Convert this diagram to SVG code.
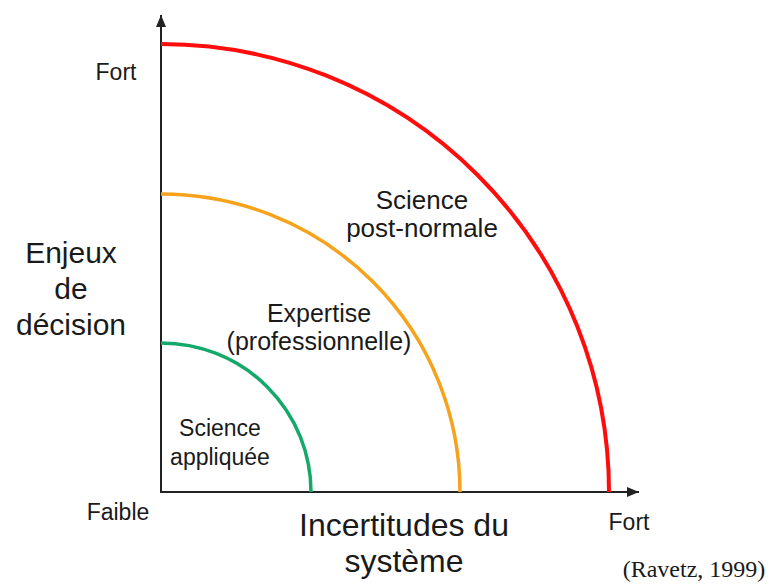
<svg xmlns="http://www.w3.org/2000/svg" width="771" height="587" viewBox="0 0 771 587">
<style>
.t{font-family:"Liberation Sans",Arial,sans-serif;fill:#1a1a1a;text-anchor:middle}
.arc{fill:none}
.ax{stroke:#222;stroke-width:2;fill:none}
</style>
<defs>
<marker id="ah" viewBox="0 0 12 10" refX="12" refY="5" markerWidth="12" markerHeight="10" markerUnits="userSpaceOnUse" orient="auto">
<path d="M0,0 L12,5 L0,10 Z" fill="#222"/>
</marker>
</defs>
<rect width="771" height="587" fill="#fff"/>
<g id="connectors">
<path class="ax" d="M161,492 V15" marker-end="url(#ah)"/>
<path class="ax" d="M160,492 H639" marker-end="url(#ah)"/>
</g>
<g id="arc-green"><path class="arc" d="M161,343 A150,149 0 0 1 311,492" stroke="#14a86a" stroke-width="3.5"/></g>
<g id="arc-orange"><path class="arc" d="M161,194 A299,298 0 0 1 460,492" stroke="#f7a21b" stroke-width="3.5"/></g>
<g id="arc-red"><path class="arc" d="M161,44 A448,448 0 0 1 609,492" stroke="#ff0d0d" stroke-width="4"/></g>
<g id="label-science-appliquee">
<text class="t" x="220" y="436" font-size="23">Science</text>
<text class="t" x="220" y="465" font-size="23">appliquée</text>
</g>
<g id="label-expertise">
<text class="t" x="319" y="322" font-size="25">Expertise</text>
<text class="t" x="319" y="350" font-size="25">(professionnelle)</text>
</g>
<g id="label-post-normale">
<text class="t" x="422" y="209" font-size="26">Science</text>
<text class="t" x="422" y="237" font-size="26">post-normale</text>
</g>
<g id="axis-y-label">
<text class="t" x="71" y="263" font-size="30">Enjeux</text>
<text class="t" x="71" y="299" font-size="30">de</text>
<text class="t" x="71" y="335" font-size="30">décision</text>
</g>
<g id="axis-x-label">
<text class="t" x="404" y="536" font-size="32">Incertitudes du</text>
<text class="t" x="404" y="572" font-size="32">système</text>
</g>
<text class="t" x="116" y="80" font-size="23">Fort</text>
<text class="t" x="118" y="520" font-size="23">Faible</text>
<text class="t" x="629" y="530" font-size="23">Fort</text>
<text x="694" y="577" font-size="24" text-anchor="middle" font-family="'Liberation Serif','Times New Roman',serif" fill="#1a1a1a">(Ravetz, 1999)</text>
</svg>
